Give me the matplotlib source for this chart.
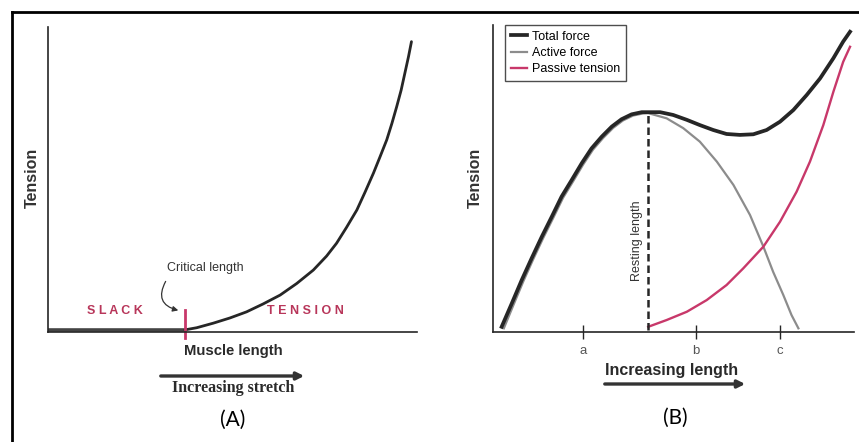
import matplotlib
matplotlib.use("Agg")
import matplotlib.pyplot as plt
from matplotlib.lines import Line2D
from matplotlib.patches import FancyArrowPatch

W, H = 859, 442

# panel A: length-tension of passive muscle (arbitrary units 0-100)
slack_x = [0, 37]
slack_y = [0.8, 0.8]
critical_x = 37
stretch_x = [37.1, 40.3, 44.8, 49.3, 53.8, 58.3, 62.9, 67.4, 71.9, 75.5, 78.2, 80.9,
             83.7, 85.9, 88.2, 90.0, 91.8, 93.2, 94.5, 95.7, 96.7, 97.7, 98.5]
stretch_y = [0.7, 1.4, 2.9, 4.6, 6.6, 9.2, 12.1, 15.9, 20.3, 24.9, 29.1, 34.3,
             40.0, 45.8, 52.1, 57.5, 63.0, 68.4, 73.9, 79.3, 84.8, 90.3, 95.2]

# panel B: total / active / passive force vs length
total_x = [2.4, 5.2, 7.95, 10.7, 13.5, 16.3, 19.0, 21.8, 24.6, 27.3, 30.1, 32.9,
           35.6, 38.4, 41.2, 43.0, 46.3, 49.9, 53.7, 57.3, 61.0, 64.7, 68.4, 72.1,
           75.8, 79.5, 83.2, 86.9, 90.6, 94.3, 97.0, 98.9]
total_y = [1.7, 9.3, 16.9, 24.0, 31.0, 37.6, 44.1, 49.5, 55.0, 59.8, 63.6, 66.9,
           69.3, 70.9, 71.6, 71.6, 71.6, 70.7, 69.1, 67.4, 65.8, 64.5, 64.2, 64.4,
           65.8, 68.5, 72.3, 77.2, 82.6, 89.2, 94.6, 97.8]
active_x = [3.0, 5.7, 8.4, 11.1, 13.9, 16.7, 19.4, 22.2, 25.0, 27.7, 30.5, 33.3,
            36.0, 38.8, 41.6, 43.0, 48.1, 52.7, 57.3, 62.0, 66.6, 71.2, 74.9, 77.6,
            80.4, 82.7, 84.6]
active_y = [1.2, 8.9, 16.5, 23.6, 30.6, 37.2, 43.7, 49.1, 54.6, 59.4, 63.2, 66.5,
            68.9, 70.5, 71.2, 71.3, 69.6, 66.4, 62.0, 55.5, 47.9, 38.1, 27.8, 19.6,
            12.1, 5.5, 1.2]
passive_x = [43.0, 48.1, 53.7, 59.2, 64.7, 69.3, 74.9, 79.5, 84.1, 87.8, 91.5, 94.3,
             97.0, 98.9]
passive_y = [1.7, 3.9, 6.6, 10.4, 15.3, 20.7, 27.8, 35.9, 45.7, 55.5, 67.4, 78.3,
             88.0, 92.9]
resting_x = 43.0
tick_pos = [24.9, 56.2, 79.5]
tick_labels = ["a", "b", "c"]

PINK = "#c8386a"
DARK = "#262626"
GRAY = "#8c8c8c"
SANS = "Liberation Sans"


def fx(x):
    return x / W


def fy(y):
    return 1 - y / H


def make_axes(fig, left, right, top, bottom):
    ax = fig.add_axes([fx(left), fy(bottom), (right - left) / W, (bottom - top) / H])
    ax.set_xlim(0, 100)
    ax.set_ylim(0, 100)
    for s in ["top", "right"]:
        ax.spines[s].set_visible(False)
    for s in ["left", "bottom"]:
        ax.spines[s].set_color(DARK)
        ax.spines[s].set_linewidth(1.2)
    ax.set_yticks([])
    ax.patch.set_alpha(0)
    return ax


def stretch_arrow(fig, x0, x1, y):
    fig.add_artist(FancyArrowPatch((fx(x0), fy(y)), (fx(x1), fy(y)),
                                   transform=fig.transFigure, arrowstyle="-|>",
                                   mutation_scale=11, lw=2.4, color="#333333"))


fig = plt.figure(figsize=(W / 100, H / 100), dpi=100)
fig.patch.set_facecolor("white")

# frame lines on top and left
fig.add_artist(Line2D([fx(12), 1], [fy(12), fy(12)], color="black", lw=2))
fig.add_artist(Line2D([fx(12), fx(12)], [fy(12), 0], color="black", lw=2))

# ---- panel A ----
axA = make_axes(fig, 48, 417, 27, 332)
axA.set_xticks([])
axA.plot(slack_x, slack_y, color="#444444", lw=2.6, solid_capstyle="butt")
axA.plot(stretch_x, stretch_y, color=DARK, lw=2.0, solid_capstyle="round",
         solid_joinstyle="round")
axA.plot([critical_x, critical_x], [-2, 7.2], color=PINK, lw=2.0, clip_on=False)

fig.text(fx(32), fy(178), "Tension", rotation=90, ha="center", va="center",
         fontsize=11.5, fontweight="bold", color="#333333", family=SANS)
fig.text(fx(115), fy(311), "S L A C K", ha="center", va="center", fontsize=9,
         fontweight="bold", color="#b8365a", family=SANS)
fig.text(fx(305), fy(311), "T E N S I O N", ha="center", va="center", fontsize=9,
         fontweight="bold", color="#b8365a", family=SANS)
fig.text(fx(205), fy(268), "Critical length", ha="center", va="center",
         fontsize=9, color="#333333", family=SANS)
fig.add_artist(FancyArrowPatch((fx(167), fy(279)), (fx(181), fy(311)),
                               transform=fig.transFigure,
                               connectionstyle="arc3,rad=0.7", arrowstyle="-|>",
                               mutation_scale=8, lw=0.9, color="#333333"))
fig.text(fx(233), fy(351), "Muscle length", ha="center", va="center",
         fontsize=10.7, fontweight="bold", color="#2a2a2a", family=SANS)
stretch_arrow(fig, 158, 307, 376)
fig.text(fx(233), fy(388), "Increasing stretch", ha="center", va="center",
         fontsize=11.5, fontweight="bold", color="#2a2a2a", family="Liberation Serif")
fig.text(fx(233), fy(420), "(A)", ha="center", va="center", fontsize=15,
         color="black", family="Lato")

# ---- panel B ----
axB = make_axes(fig, 493, 854, 25, 332)
axB.plot(active_x, active_y, color=GRAY, lw=1.6, label="Active force",
         solid_joinstyle="round")
axB.plot(passive_x, passive_y, color=PINK, lw=1.7, label="Passive tension",
         solid_joinstyle="round")
axB.plot(total_x, total_y, color=DARK, lw=2.7, label="Total force",
         solid_joinstyle="round")
axB.plot([resting_x, resting_x], [0.7, 71.6], color=DARK, lw=1.8,
         dashes=(3, 1.6))
axB.set_xticks(tick_pos)
axB.set_xticklabels(tick_labels, family=SANS, fontsize=9.5, color="#555555")
axB.tick_params(axis="x", direction="inout", length=10, width=1.0,
                color=DARK, pad=4)

handles, labels = axB.get_legend_handles_labels()
order = [2, 0, 1]
leg = axB.legend([handles[i] for i in order], [labels[i] for i in order],
                 loc="upper left", bbox_to_anchor=(0.033, 1.0),
                 prop={"family": SANS, "size": 9}, frameon=True,
                 fancybox=False, handlelength=1.3, handletextpad=0.45,
                 borderpad=0.45, labelspacing=0.35, borderaxespad=0)
leg.get_frame().set_edgecolor("#222222")
leg.get_frame().set_linewidth(1.0)

axB.text(39.9, 29.6, "Resting length", rotation=90, ha="center", va="center",
         fontsize=9, color="#333333", family=SANS)

fig.text(fx(475), fy(178), "Tension", rotation=90, ha="center", va="center",
         fontsize=11.5, fontweight="bold", color="#333333", family=SANS)
fig.text(fx(672), fy(370), "Increasing length", ha="center", va="center",
         fontsize=11.5, fontweight="bold", color="#2a2a2a", family=SANS)
stretch_arrow(fig, 602, 748, 384)
fig.text(fx(675), fy(418), "(B)", ha="center", va="center", fontsize=15,
         color="black", family="Lato")

fig.savefig("out.png", dpi=100, facecolor="white")
